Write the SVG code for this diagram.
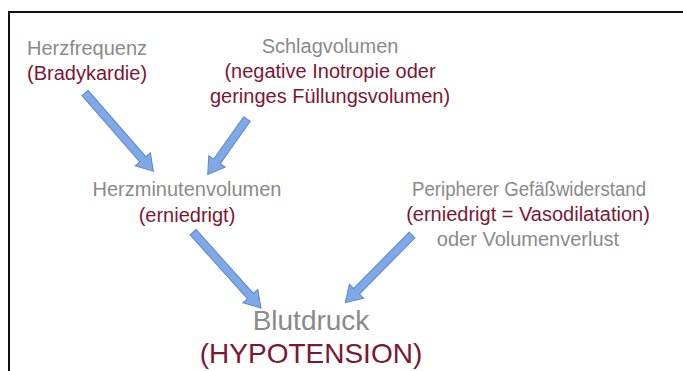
<svg xmlns="http://www.w3.org/2000/svg" width="683" height="371" viewBox="0 0 683 371">
  <style>
    text { font-family: "Liberation Sans", Arial, sans-serif; }
    .g { fill: #8a8a8a; font-size: 20px; }
    .r { fill: #7d1634; font-size: 20px; }
    .gb { fill: #8a8a8a; font-size: 28px; }
    .rb { fill: #7d1634; font-size: 28px; }
    .arr { fill: #7fa9e6; stroke: #5a87cc; stroke-width: 1; stroke-linejoin: miter; }
    .c { text-anchor: middle; }
  </style>
  <rect x="0" y="0" width="683" height="371" fill="#ffffff"/>
  <rect x="9" y="12" width="690" height="380" fill="none" stroke="#111111" stroke-width="2"/>

  <g id="connectors">
    <path class="arr" transform="translate(85,93) rotate(48.9)" d="M0,-4 L88,-4 L88,-10 L104,0 L88,10 L88,4 L0,4 Z"/>
    <path class="arr" transform="translate(247,119) rotate(125.3)" d="M0,-4 L52,-4 L52,-10 L68,0 L52,10 L52,4 L0,4 Z"/>
    <path class="arr" transform="translate(193,232) rotate(48.2)" d="M0,-4 L86,-4 L86,-10 L102,0 L86,10 L86,4 L0,4 Z"/>
    <path class="arr" transform="translate(412,235) rotate(134.6)" d="M0,-4 L79,-4 L79,-10 L95,0 L79,10 L79,4 L0,4 Z"/>
  </g>

  <g id="herzfrequenz">
    <text class="g" x="27" y="55">Herzfrequenz</text>
    <text class="r" x="27" y="80">(Bradykardie)</text>
  </g>
  <g id="schlagvolumen">
    <text class="g c" x="330" y="53">Schlagvolumen</text>
    <text class="r c" x="330" y="78">(negative Inotropie oder</text>
    <text class="r c" x="330" y="103">geringes Füllungsvolumen)</text>
  </g>
  <g id="herzminutenvolumen">
    <text class="g c" x="187" y="196">Herzminutenvolumen</text>
    <text class="r c" x="187" y="222">(erniedrigt)</text>
  </g>
  <g id="gefaesswiderstand">
    <text class="g c" x="529" y="196" textLength="234" lengthAdjust="spacingAndGlyphs">Peripherer Gefäßwiderstand</text>
    <text class="r c" x="528" y="221">(erniedrigt = Vasodilatation)</text>
    <text class="g c" x="528" y="246">oder Volumenverlust</text>
  </g>
  <g id="blutdruck">
    <text class="gb c" x="311" y="330">Blutdruck</text>
    <text class="rb c" x="311" y="363">(HYPOTENSION)</text>
  </g>
</svg>
